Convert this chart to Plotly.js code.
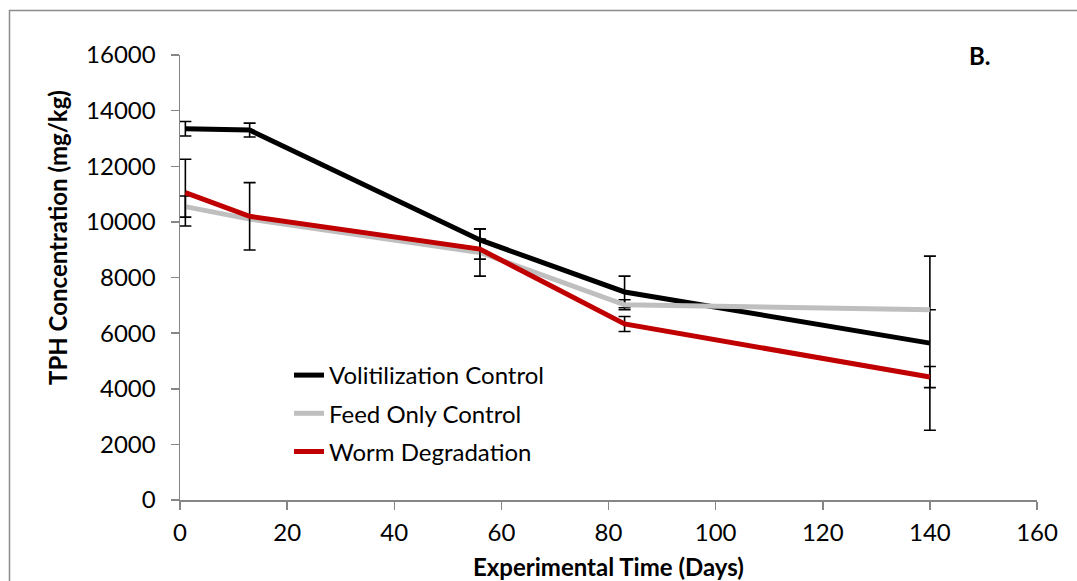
<!DOCTYPE html>
<html>
<head>
<meta charset="utf-8">
<script src="https://cdn.plot.ly/plotly-3.0.1.min.js"></script>
<style>
html,body{margin:0;padding:0;background:#fff;}
#chart{width:1077px;height:581px;}
</style>
</head>
<body>
<div id="chart"></div>
<script>
const days = [1, 13, 56, 83, 140];
const volitilization = [13350, 13300, 9350, 7480, 5640];
const volitilizationErr = [260, 250, 400, 570, 3130];
const feedOnly = [10550, 10100, 8900, 7020, 6840];
const feedOnlyErr = [380, 0, 850, 180, 0];
const worm = [11050, 10200, 9020, 6330, 4420];
const wormErr = [1200, 1210, 360, 270, 380];
const seriesNames = ["Volitilization Control", "Feed Only Control", "Worm Degradation"];
const xTicks = [0, 20, 40, 60, 80, 100, 120, 140, 160];
const yTicks = [0, 2000, 4000, 6000, 8000, 10000, 12000, 14000, 16000];

const FONT = "Lato, 'Open Sans', sans-serif";
const FS = 24;

function errBar(arr) {
  return {type: 'data', array: arr, visible: true, color: '#000000', thickness: 1.6, width: 6};
}

const traces = [
  {x: days, y: volitilization, name: seriesNames[0], legendgroup: 'a', mode: 'lines',
   line: {color: '#000000', width: 5}, error_y: errBar(volitilizationErr)},
  {x: days, y: feedOnly, name: seriesNames[1], legendgroup: 'b', mode: 'lines',
   line: {color: '#BFBFBF', width: 5}, error_y: errBar(feedOnlyErr)},
  {x: days, y: worm, name: seriesNames[2], legendgroup: 'c', mode: 'lines',
   line: {color: '#C00000', width: 5}, error_y: errBar(wormErr)}
];

const L = 180, R = 40, T = 55, B = 81, W = 1077, H = 581;
const pw = W - L - R, ph = H - T - B;
function px(xp) { return (xp - L) / pw; }
function py(yp) { return (H - B - yp) / ph; }

const layout = {
  width: W, height: H,
  margin: {l: L, r: R, t: T, b: B, pad: 0},
  paper_bgcolor: '#ffffff', plot_bgcolor: '#ffffff',
  font: {family: FONT, size: FS, color: '#000000'},
  showlegend: true,
  legend: {x: px(289), y: py(353), xanchor: 'left', yanchor: 'top',
           bgcolor: 'rgba(0,0,0,0)', font: {family: FONT, size: FS, color: '#000'},
           tracegroupgap: 4, traceorder: 'grouped', itemsizing: 'constant'},
  xaxis: {range: [0, 160], tickvals: xTicks, ticktext: xTicks.map(String),
          showgrid: false, zeroline: false, showline: true, linecolor: '#868686', linewidth: 1.5,
          ticks: 'outside', ticklen: 8, tickcolor: '#868686', tickwidth: 1.5,
          ticklabelstandoff: 3, tickfont: {family: FONT, size: FS, color: '#000'}, fixedrange: true},
  yaxis: {range: [0, 16000], tickvals: yTicks, ticktext: yTicks.map(String),
          showgrid: false, zeroline: false, showline: true, linecolor: '#868686', linewidth: 1.5,
          ticks: 'outside', ticklen: 8, tickcolor: '#868686', tickwidth: 1.5,
          ticklabelstandoff: 10, tickfont: {family: FONT, size: FS, color: '#000'}, fixedrange: true},
  annotations: [
    {text: '<b>Experimental Time (Days)</b>', xref: 'paper', yref: 'paper',
     x: px(608), y: py(566), xanchor: 'center', yanchor: 'middle', showarrow: false,
     font: {family: FONT, size: FS, color: '#000'}},
    {text: '<b>TPH Concentration (mg/kg)</b>', xref: 'paper', yref: 'paper',
     x: px(57), y: py(238), xanchor: 'center', yanchor: 'middle', showarrow: false, textangle: -90,
     font: {family: FONT, size: FS, color: '#000'}},
    {text: '<b>B.</b>', xref: 'paper', yref: 'paper',
     x: px(980), y: py(56), xanchor: 'center', yanchor: 'middle', showarrow: false,
     font: {family: FONT, size: FS, color: '#000'}}
  ],
  shapes: [
    {type: 'rect', xref: 'paper', yref: 'paper', x0: px(9.5), y0: py(10.5), x1: px(1100), y1: py(620),
     line: {color: '#8c8c8c', width: 1.5}, fillcolor: 'rgba(0,0,0,0)', layer: 'below'}
  ]
};

Plotly.newPlot('chart', traces, layout, {displayModeBar: false, staticPlot: true});
</script>
</body>
</html>
